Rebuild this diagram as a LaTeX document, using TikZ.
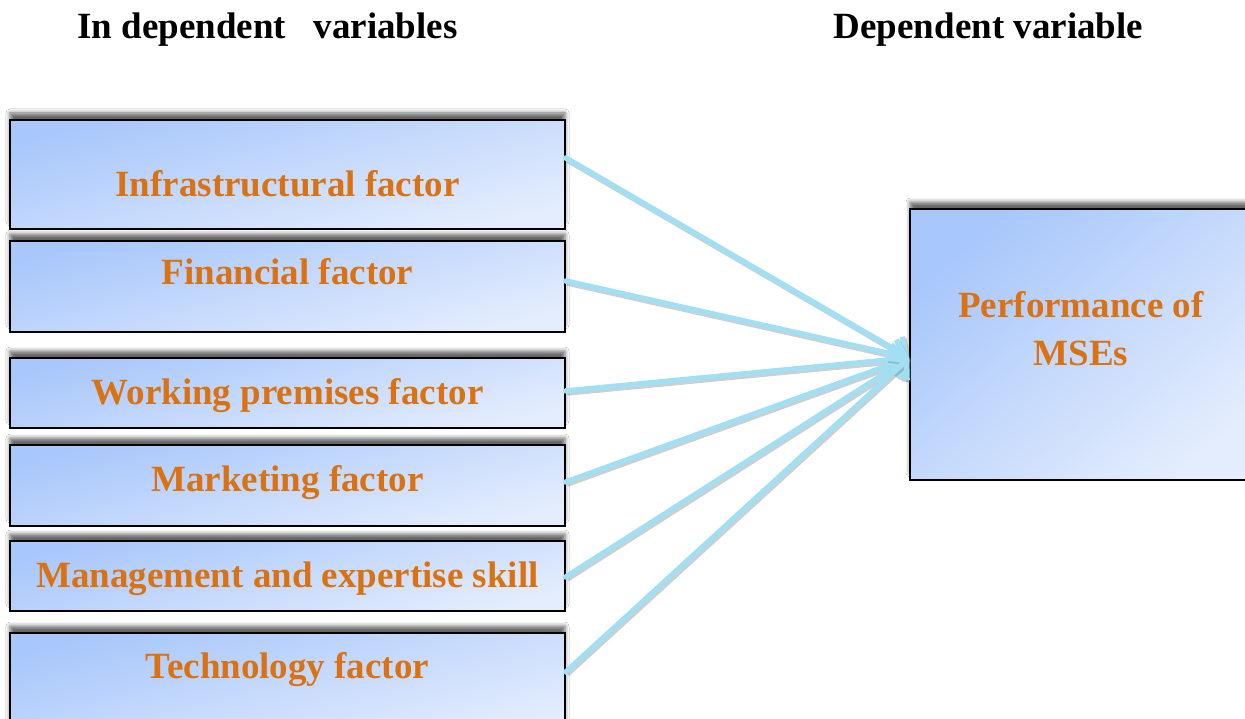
\documentclass[tikz,border=0pt]{standalone}
\usepackage{fontspec}
\setmainfont{Liberation Serif}
\usetikzlibrary{arrows.meta,shadows.blur}
\definecolor{boxdark}{HTML}{A8C7FB}
\definecolor{boxlight}{HTML}{E4EDFD}
\definecolor{factortext}{HTML}{DB7212}
\definecolor{linkblue}{HTML}{A2DFF3}
\begin{document}
\begin{tikzpicture}[x=1pt,y=-1pt,
  panel/.style={draw=black, line width=1.6pt, top color=boxdark, bottom color=boxlight,
    shading angle=15,
    blur shadow={shadow xshift=0pt, shadow yshift=7pt,
      shadow blur radius=4pt, shadow opacity=60}},
  bigbold/.style={font=\fontsize{37}{48}\selectfont\bfseries},
  factor/.style={panel, bigbold, minimum width=555pt, inner sep=0pt, text=factortext},
  heading/.style={bigbold, anchor=base, text=black},
  link/.style={draw=linkblue, line width=5.5pt, line cap=round,
    -{Straight Barb[length=13pt,width=30pt]},
    preaction={draw=black!55, opacity=0.35, line width=5.5pt,
      transform canvas={xshift=1.5pt,yshift=-2pt}}}
]
\clip (0,0) rectangle (1245,719);
\fill[white] (0,0) rectangle (1245,719);

% column headings
\node[heading] (indep) at (267.5,39) {In dependent\ \ \ variables};
\node[heading] (dep) at (988.5,39) {Dependent variable};

% independent factors
\node[factor, minimum height=109pt, text height=55pt, text depth=10pt] (f1) at (287.5,174.5) {Infrastructural factor};
\node[factor, minimum height=91pt, text height=7pt, text depth=10pt] (f2) at (287.5,286.5) {Financial factor};
\node[factor, minimum height=70pt, text height=32pt, text depth=10pt] (f3) at (287.5,393) {Working premises factor};
\node[factor, minimum height=81pt, text height=21pt, text depth=10pt] (f4) at (287.5,485.5) {Marketing factor};
\node[factor, minimum height=70pt, text height=32pt, text depth=10pt] (f5) at (287.5,576) {Management and expertise skill};
\node[factor, minimum height=106pt, text height=4pt, text depth=20pt] (f6) at (287.5,686) {Technology factor};

% dependent variable
\node[panel, shading angle=40, minimum width=360pt, minimum height=271pt, inner sep=0pt] (perf) at (1090,344.5) {};
\node[bigbold, text=factortext, align=center] (perflabel) at (1081,329) {Performance of\\MSEs};

% influence arrows
\coordinate (hit) at ([yshift=-13.5pt]perf.west);
\draw[link] ([yshift=16.5pt]f1.east) -- (hit);
\draw[link] ([yshift=5.5pt]f2.east) -- (hit);
\draw[link] ([yshift=2pt]f3.east) -- (hit);
\draw[link] ([yshift=3.5pt]f4.east) -- (hit);
\draw[link] ([yshift=-1pt]f5.east) -- (hit);
\draw[link] ([yshift=14pt]f6.east) -- (hit);
\end{tikzpicture}
\end{document}
